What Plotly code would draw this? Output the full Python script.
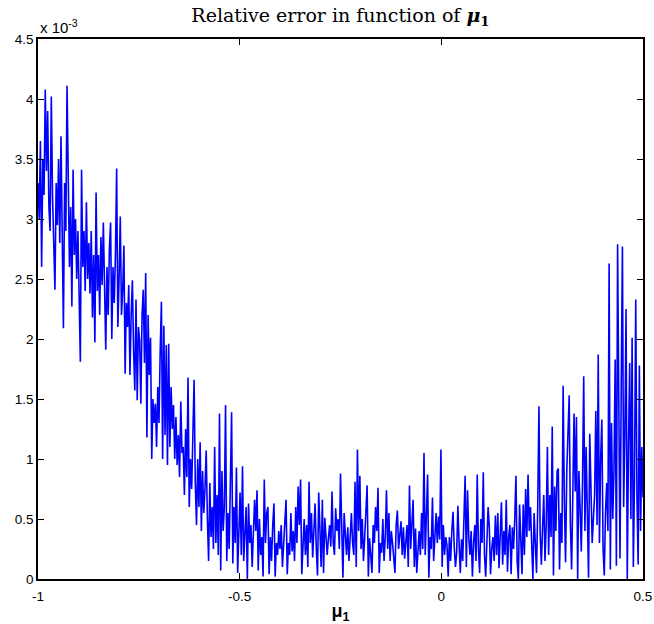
import numpy as np
import plotly.graph_objects as go

rel_err_e3 = [
    3.3, 3.0, 3.65, 2.6, 3.5, 3.2, 4.08, 3.4, 3.9, 3.1,
    2.9, 4.02, 3.2, 2.85, 2.41, 3.3, 2.95, 3.5, 2.8, 3.69,
    3.0, 2.09, 3.3, 2.9, 4.11, 3.2, 2.6, 3.1, 2.27, 3.41,
    2.7, 3.0, 2.5, 2.9, 2.25, 1.81, 3.41, 2.6, 2.9, 2.4,
    3.14, 2.5, 2.8, 2.38, 2.9, 2.18, 2.7, 1.97, 3.22, 2.4,
    2.7, 2.2, 2.85, 2.45, 2.97, 2.3, 1.91, 2.6, 2.2, 2.75,
    2.97, 2.0, 2.6, 2.3, 2.7, 3.42, 2.1, 2.5, 3.02, 2.2,
    2.4, 2.78, 1.71, 2.3, 2.1, 2.45, 1.7, 2.2, 2.49, 1.9,
    1.57, 2.33, 1.49, 2.1, 1.99, 1.46, 2.2, 2.41, 1.8, 2.55,
    1.18, 2.2, 1.7, 2.01, 1.0, 1.5, 1.3, 1.46, 1.1, 1.6,
    1.3, 1.9, 2.31, 1.0, 2.11, 1.2, 1.95, 0.95, 1.96, 1.1,
    1.6, 1.25, 1.45, 1.0, 1.35, 0.95, 1.2, 0.85, 1.48, 1.05,
    1.1, 0.7, 1.25, 0.85, 1.68, 0.6, 1.0, 0.75, 1.2, 1.66,
    0.8, 0.45, 1.0, 0.6, 1.14, 0.4, 0.9, 0.55, 0.75, 1.07,
    0.5, 0.15, 0.8, 0.35, 0.6, 0.25, 1.1, 0.3, 0.7, 0.2,
    1.38, 0.07, 0.9, 0.4, 0.6, 1.45, 0.15, 0.55, 0.25, 0.7,
    1.39, 0.13, 0.6, 0.3, 0.93, 0.05, 0.5, 0.72, 0.2, 0.94,
    0.15, 0.45, 0.6, 0.0, 0.63, 0.3, 0.45, 0.1, 0.35, 0.66,
    0.4, 0.74, 0.07, 0.5, 0.2, 0.35, 0.02, 0.83, 0.3, 0.55,
    0.6, 0.04, 0.35, 0.15, 0.45, 0.63, 0.02, 0.3, 0.2, 0.4,
    0.25, 0.45, 0.1, 0.32, 0.5, 0.66, 0.04, 0.3, 0.2, 0.55,
    0.23, 0.4, 0.15, 0.6, 0.3, 0.77, 0.45, 0.83, 0.04, 0.35,
    0.5, 0.2, 0.45, 0.1, 0.81, 0.3, 0.55, 0.18, 0.4, 0.63,
    0.25, 0.03, 0.72, 0.35, 0.1, 0.66, 0.05, 0.51, 0.3, 0.2,
    0.34, 0.45, 0.27, 0.73, 0.3, 0.2, 0.59, 0.4, 0.5, 0.25,
    0.88, 0.35, 0.01, 0.55, 0.3, 0.2, 0.43, 0.15, 0.35, 0.55,
    0.3, 0.2, 0.81, 0.1, 1.08, 0.4, 0.86, 0.25, 0.5, 0.15,
    0.35, 0.55, 0.78, 0.02, 0.34, 0.2, 0.05, 0.45, 0.3, 0.6,
    0.4, 0.76, 0.05, 0.3, 0.22, 0.5, 0.15, 0.35, 0.74, 0.25,
    0.55, 0.15, 0.4, 0.3, 0.2, 0.05, 0.45, 0.57, 0.25, 0.35,
    0.48, 0.2, 0.43, 0.17, 0.3, 0.45, 0.1, 0.78, 0.25, 0.5,
    0.66, 0.1, 0.42, 0.05, 0.3, 0.4, 0.2, 0.55, 0.25, 1.05,
    0.2, 0.5, 0.87, 0.01, 0.35, 0.25, 0.68, 0.15, 0.4, 0.55,
    0.3, 0.52, 0.33, 1.08, 0.1, 0.45, 0.2, 0.35, 0.28, 0.02,
    0.35, 0.15, 0.4, 0.56, 0.27, 0.1, 0.22, 0.61, 0.3, 0.05,
    0.33, 0.15, 0.5, 0.86, 0.1, 0.74, 0.35, 0.2, 0.4, 0.02,
    0.3, 0.45, 0.15, 0.87, 0.25, 0.05, 0.5, 0.3, 0.89, 0.2,
    0.02, 0.3, 0.6, 0.43, 0.04, 0.25, 0.35, 0.15, 0.53, 0.2,
    0.55, 0.09, 0.3, 0.64, 0.12, 0.4, 0.2, 0.66, 0.06, 0.35,
    0.45, 0.04, 0.43, 0.25, 0.5, 0.86, 0.15, 0.0, 0.62, 0.3,
    0.04, 0.62, 0.2, 0.75, 0.35, 0.87, 0.4, 0.6, 0.2, 0.0,
    0.55, 0.3, 0.05, 0.6, 1.44, 0.38, 0.12, 0.43, 0.7, 0.15,
    0.45, 1.1, 0.2, 0.7, 0.35, 1.27, 0.03, 0.77, 0.4, 0.9,
    0.92, 0.08, 0.55, 0.3, 1.61, 0.65, 0.14, 0.9, 1.3, 1.53,
    0.45, 0.08, 0.7, 1.38, 0.73, 1.35, 0.0, 0.9, 0.6, 0.23,
    0.8, 1.69, 0.4, 1.1, 0.55, 0.01, 1.21, 0.6, 0.3, 0.5,
    0.7, 1.4, 0.45, 1.87, 0.3, 1.0, 1.33, 0.25, 0.03, 0.55,
    0.8, 0.4, 2.63, 0.08, 1.3, 0.5, 0.9, 1.83, 0.11, 2.79,
    0.9, 0.17, 1.6, 2.77, 0.6, 1.2, 2.25, 0.0, 1.1, 1.8,
    0.5, 2.01, 0.1, 0.85, 2.33, 0.7, 0.12, 1.78, 0.4, 1.1, 0.68,
]
mu1 = np.linspace(-1.0, 0.5, len(rel_err_e3))

x_tickvals = [-1, -0.5, 0, 0.5]
x_ticktext = ["-1", "-0.5", "0", "0.5"]
y_tickvals = [0, 0.5, 1, 1.5, 2, 2.5, 3, 3.5, 4, 4.5]
y_ticktext = ["0", "0.5", "1", "1.5", "2", "2.5", "3", "3.5", "4", "4.5"]

fig = go.Figure()
fig.add_trace(go.Scatter(x=mu1, y=rel_err_e3, mode="lines",
                         line=dict(color="#0000FF", width=1.6),
                         showlegend=False, hoverinfo="skip"))

axis_font = dict(family="Liberation Sans, Arial, sans-serif", size=13.5, color="#000000")
fig.update_layout(
    width=654, height=624,
    margin=dict(l=38, r=11, t=39, b=45),
    paper_bgcolor="white", plot_bgcolor="white",
    title=dict(text="Relative error in function of <b><i>μ</i><sub>1</sub></b>",
               x=0.5206, xanchor="center", y=0.976, yanchor="middle",
               font=dict(family="DejaVu Serif, serif", size=19, color="#000000")),
    xaxis=dict(range=[-1, 0.5], tickvals=x_tickvals, ticktext=x_ticktext,
               ticks="inside", ticklen=6, tickwidth=1, tickcolor="black",
               showline=True, linecolor="black", linewidth=1.5, mirror="ticks",
               showgrid=False, zeroline=False, tickfont=axis_font, automargin=False,
               ticklabelstandoff=4,
               title=dict(text="<b>μ<sub>1</sub></b>", standoff=6,
                          font=dict(family="Liberation Sans, Arial, sans-serif", size=18, color="#000000"))),
    yaxis=dict(range=[0, 4.5], tickvals=y_tickvals, ticktext=y_ticktext,
               ticks="inside", ticklen=6, tickwidth=1, tickcolor="black",
               showline=True, linecolor="black", linewidth=1.5, mirror="ticks",
               showgrid=False, zeroline=False, tickfont=axis_font, automargin=False),
    annotations=[dict(text="x 10<sup>-3</sup>", xref="paper", yref="paper",
                      x=0, y=1, xanchor="left", yanchor="bottom", yshift=1, xshift=0,
                      showarrow=False,
                      font=dict(family="Liberation Sans, Arial, sans-serif", size=15, color="#000000"))],
)

fig.write_html("out.html")
